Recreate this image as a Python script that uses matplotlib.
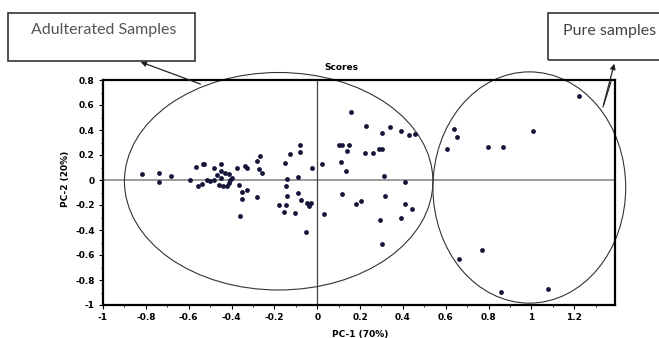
"""PCA scores plot: adulterated vs pure samples."""
import matplotlib
matplotlib.use('Agg')
import matplotlib.pyplot as plt
from matplotlib.patches import Ellipse, Rectangle
from matplotlib.ticker import MultipleLocator

# PC-1 / PC-2 scores
adulterated_pc1 = [
    -0.818, -0.738, -0.738, -0.682, -0.593, -0.565, -0.533, -0.556, -0.537,
    -0.514, -0.528, -0.48, -0.449, -0.449, -0.50, -0.47, -0.46, -0.44,
    -0.42, -0.41, -0.405, -0.40, -0.41, -0.43, -0.45, -0.48, -0.374,
    -0.336, -0.327, -0.266, -0.28, -0.27, -0.257, -0.364, -0.35, -0.327,
    -0.35, -0.28, -0.36, -0.15, -0.126, -0.08, -0.08, -0.14, -0.089,
    -0.145, -0.14, -0.089, -0.075, -0.178, -0.145, -0.154, -0.103,
    -0.047, -0.037, -0.028, -0.051, -0.023, 0.023, 0.112, 0.136, 0.103,
    0.117, 0.15, 0.14, 0.224, 0.262, 0.29, 0.304, 0.159, 0.229, 0.304,
    0.341, 0.393, 0.43, 0.458, 0.313, 0.411, 0.117, 0.318, 0.182, 0.206,
    0.411, 0.444, 0.033, 0.294, 0.393, 0.304,
]
adulterated_pc2 = [
    0.048, 0.056, -0.016, 0.032, 0.0, 0.104, 0.128, -0.048, -0.032,
    0.0, 0.128, 0.096, 0.128, 0.072, -0.01, 0.04, -0.04, -0.05,
    -0.045, -0.02, 0.0, 0.02, 0.045, 0.06, 0.02, 0.0, 0.096,
    0.112, 0.096, 0.192, 0.152, 0.088, 0.056, -0.04, -0.096, -0.08,
    -0.152, -0.136, -0.29, 0.136, 0.208, 0.28, 0.224, 0.008, 0.024,
    -0.048, -0.128, -0.104, -0.16, -0.2, -0.2, -0.256, -0.264,
    -0.184, -0.208, -0.184, -0.416, 0.096, 0.128, 0.144, 0.072, 0.28,
    0.28, 0.28, 0.232, 0.216, 0.216, 0.248, 0.248, 0.544, 0.432, 0.376,
    0.424, 0.392, 0.36, 0.368, 0.032, -0.016, -0.112, -0.128, -0.192,
    -0.168, -0.192, -0.232, -0.272, -0.32, -0.304, -0.512,
]
pure_pc1 = [1.224, 0.64, 0.654, 0.607, 0.799, 0.869, 1.005, 0.771, 0.664,
            0.86, 1.075]
pure_pc2 = [0.672, 0.408, 0.344, 0.248, 0.264, 0.264, 0.392, -0.56, -0.632,
            -0.896, -0.872]

x_ticks = [-1, -0.8, -0.6, -0.4, -0.2, 0, 0.2, 0.4, 0.6, 0.8, 1, 1.2]
y_ticks = [-1, -0.8, -0.6, -0.4, -0.2, 0, 0.2, 0.4, 0.6, 0.8]

W, H = 659, 338


def fx(px):
    return px / W


def fy(py):
    return 1 - py / H


fig = plt.figure(figsize=(W / 100, H / 100), dpi=100)
ax = fig.add_axes([fx(103), fy(305), fx(615) - fx(103), fy(80) - fy(305)])

ax.axhline(0, color='#8a8a8a', lw=1.2, zorder=1)
ax.axvline(0, color='#444444', lw=0.9, zorder=1)

dot = '#15153a'
ax.scatter(adulterated_pc1, adulterated_pc2, s=12, color=dot, zorder=3,
           linewidths=0)
ax.scatter(pure_pc1, pure_pc2, s=12, color=dot, zorder=3, linewidths=0)

# group outlines
ax.add_patch(Ellipse((-0.18, -0.01), 1.44, 1.74, fill=False,
                     edgecolor='#333333', lw=0.8, clip_on=False, zorder=2))
ax.add_patch(Ellipse((0.99, -0.06), 0.9, 1.85, fill=False,
                     edgecolor='#333333', lw=0.8, clip_on=False, zorder=2))

ax.set_xlim(-1, 1.39)
ax.set_ylim(-1, 0.8)
ax.set_xticks(x_ticks)
ax.set_yticks(y_ticks)
ax.set_xticklabels([f'{t:g}' for t in x_ticks])
ax.set_yticklabels([f'{t:g}' for t in y_ticks])
ax.xaxis.set_minor_locator(MultipleLocator(0.1))
ax.yaxis.set_minor_locator(MultipleLocator(0.1))
ax.tick_params(which='major', direction='out', length=3, width=0.8,
               labelsize=6.5, pad=3)
ax.tick_params(which='minor', direction='out', length=1.5, width=0.6)
for lab in ax.get_xticklabels() + ax.get_yticklabels():
    lab.set_fontweight('bold')
for sp in ax.spines.values():
    sp.set_linewidth(1.6)

ax.set_xlabel('PC-1 (70%)', fontsize=6.5, fontweight='bold', labelpad=1)
ax.set_ylabel('PC-2 (20%)', fontsize=6.5, fontweight='bold')
ax.xaxis.set_label_coords((360 - 103) / 512, -(330 - 305) / 225)
ax.yaxis.set_label_coords(-(103 - 70) / 512, (305 - 179) / 225)

fig.text(fx(341), fy(68), 'Scores', fontsize=6.5, fontweight='bold',
         ha='center', va='center')

# callout boxes
fig.add_artist(Rectangle((fx(8), fy(61)), fx(195) - fx(8), fy(13) - fy(61),
                         transform=fig.transFigure, fill=False,
                         edgecolor='#333333', lw=1.2))
fig.text(fx(31), fy(30), 'Adulterated Samples', fontsize=11.5,
         color='#555555', family='Lato', va='center')
fig.add_artist(Rectangle((fx(548), fy(60)), fx(700) - fx(548),
                         fy(13) - fy(60), transform=fig.transFigure,
                         fill=False, edgecolor='#333333', lw=1.2))
fig.text(fx(563), fy(31), 'Pure samples', fontsize=11.5,
         color='#444444', family='Lato', va='center')

arrow = dict(arrowstyle='-|>', color='#222222', lw=0.9, mutation_scale=8)
ax.annotate('', xy=(fx(138), fy(61)), xycoords='figure fraction',
            xytext=(fx(203), fy(85)), textcoords='figure fraction',
            arrowprops=arrow)
ax.annotate('', xy=(fx(615), fy(61)), xycoords='figure fraction',
            xytext=(fx(603), fy(107)), textcoords='figure fraction',
            arrowprops=arrow)
fig.add_artist(plt.Line2D([fx(603), fx(611)], [fy(107), fy(82)],
                          transform=fig.transFigure, color='#222222',
                          lw=0.8))

fig.savefig('out.png', dpi=100)
